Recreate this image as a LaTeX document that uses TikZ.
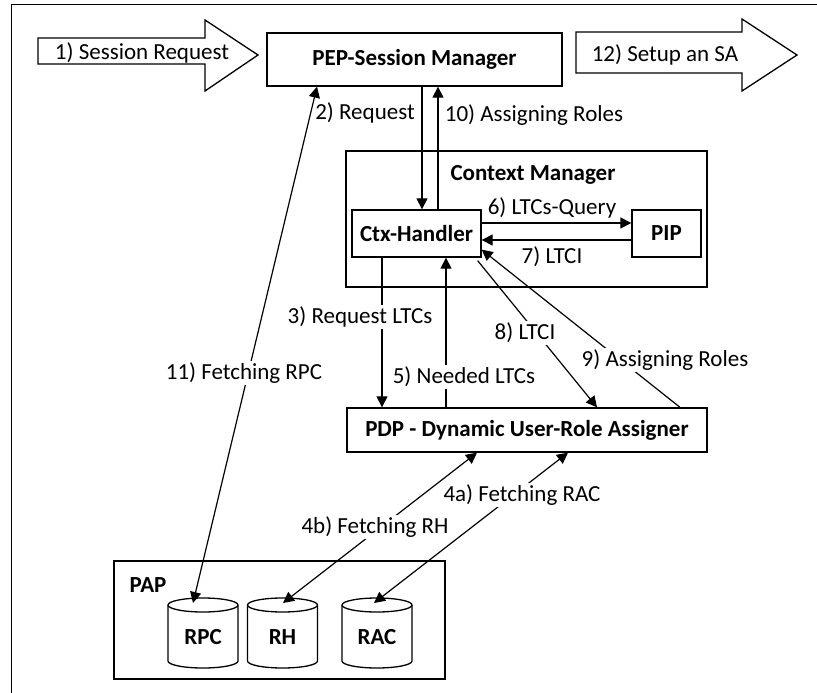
\documentclass[tikz,border=0pt]{standalone}
\usepackage{fontspec}
\setmainfont{Carlito}
\usetikzlibrary{arrows.meta}
\newcommand\dbcyl[3]{%
  \draw[line width=1.3pt, fill=white] ({#1-35},605) -- ({#1-35},661)
    arc[start angle=180,end angle=360,x radius=35pt,y radius=7pt] -- ({#1+35},605)
    arc[start angle=0,end angle=180,x radius=35pt,y radius=7pt] -- cycle;
  \draw[line width=1.3pt] ({#1-35},605) arc[start angle=180,end angle=360,x radius=35pt,y radius=7pt];
  \node[font=\fontsize{23}{27}\selectfont\bfseries] (#2) at (#1,637) {#3};}
\begin{document}
\begin{tikzpicture}[x=1pt,y=-1pt,
  every node/.style={font=\fontsize{23}{27}\selectfont},
  box/.style={draw, line width=1.3pt, inner sep=0pt, font=\fontsize{23}{27}\selectfont\bfseries},
  lblw/.style={fill=white, inner sep=1.5pt},
  conn/.style={line width=1.2pt, -{Triangle[length=11pt,width=11pt]}},
  dconn/.style={line width=1.2pt, {Triangle[length=11pt,width=11pt]}-{Triangle[length=11pt,width=11pt]}},
  blk/.style={draw, line width=1.3pt, line join=miter}
]
\useasboundingbox (0,0) rectangle (817,693);
% outer frame (top and left only visible)
\draw[line width=1.3pt] (11.5,693) -- (11.5,4.5) -- (817,4.5);

% block arrows
\draw[blk] (38,38) -- (205,38) -- (205,20) -- (258,55) -- (205,91) -- (205,64) -- (38,64) -- cycle;
\node (a1) at (142,53) {1) Session Request};
\draw[blk] (576,32) -- (742,32) -- (742,19) -- (797,55) -- (742,91) -- (742,73) -- (576,73) -- cycle;
\node (a12) at (665,55) {12) Setup an SA};

% boxes
\node[box, minimum width=295pt, minimum height=53pt] (pep) at (414.5,59.5) {PEP-Session Manager};
\node[draw, line width=1.3pt, minimum width=361pt, minimum height=136pt, inner sep=0pt] (cm) at (526.5,219) {};
\node[font=\fontsize{23}{27}\selectfont\bfseries] (cmlabel) at (533,175) {Context Manager};
\node[box, minimum width=129pt, minimum height=47pt] (ctx) at (416.5,233.5) {Ctx-Handler};
\node[box, minimum width=69pt, minimum height=47pt] (pip) at (666.5,233.5) {PIP};
\node[box, minimum width=360pt, minimum height=44pt] (pdp) at (527,430) {PDP - Dynamic User-Role Assigner};
\node[draw, line width=1.3pt, minimum width=331pt, minimum height=118pt, inner sep=0pt] (pap) at (279.5,620) {};
\node[font=\fontsize{23}{27}\selectfont\bfseries] (paplabel) at (148,585) {PAP};
\dbcyl{203}{rpc}{RPC}
\dbcyl{282.5}{rh}{RH}
\dbcyl{377}{rac}{RAC}
\coordinate (rpcT) at (193,603);
\coordinate (rhT) at (283,603);
\coordinate (racT) at (374,603);

% connectors
\draw[conn] ([xshift=7.5pt]pep.south) -- ([xshift=7.5pt]pep.south |- ctx.north);
\draw[conn] ([xshift=23.5pt]pep.south |- ctx.north) -- ([xshift=23.5pt]pep.south);
\draw[conn] ([yshift=10.5pt]ctx.east) -- ([yshift=10.5pt]ctx.east -| pip.west);
\draw[conn] ([yshift=-6.5pt]pip.west) -- ([yshift=-6.5pt]pip.west -| ctx.east);
\draw[conn] ([xshift=-34.5pt]ctx.south) -- ([xshift=-34.5pt]ctx.south |- pdp.north);
\draw[conn] ([xshift=29.5pt]ctx.south |- pdp.north) -- ([xshift=29.5pt]ctx.south);
\draw[conn] ([xshift=-4pt,yshift=-3pt]ctx.south east) -- ([xshift=70pt]pdp.north);
\draw[conn] ([xshift=153pt]pdp.north) -- ([yshift=8pt]ctx.south east);
\draw[dconn] ([xshift=-97.5pt]pep.south) -- (rpcT);
\draw[dconn] (rhT) -- ([xshift=-50pt]pdp.south);
\draw[dconn] (racT) -- ([xshift=41pt]pdp.south);

% labels
\node (l2) at (365,113) {2) Request};
\node (l10) at (534,115) {10) Assigning Roles};
\node (l6) at (552,208) {6) LTCs-Query};
\node (l7) at (552,257) {7) LTCI};
\node[lblw] (l3) at (360,317) {3) Request LTCs};
\node[lblw] (l5) at (464,377) {5) Needed LTCs};
\node[lblw] (l8) at (525,333) {8) LTCI};
\node[lblw] (l9) at (665,360) {9) Assigning Roles};
\node[lblw] (l11) at (244,373) {11) Fetching RPC};
\node[lblw] (l4a) at (522,495) {4a) Fetching RAC};
\node[lblw] (l4b) at (375,527) {4b) Fetching RH};
\end{tikzpicture}
\end{document}
